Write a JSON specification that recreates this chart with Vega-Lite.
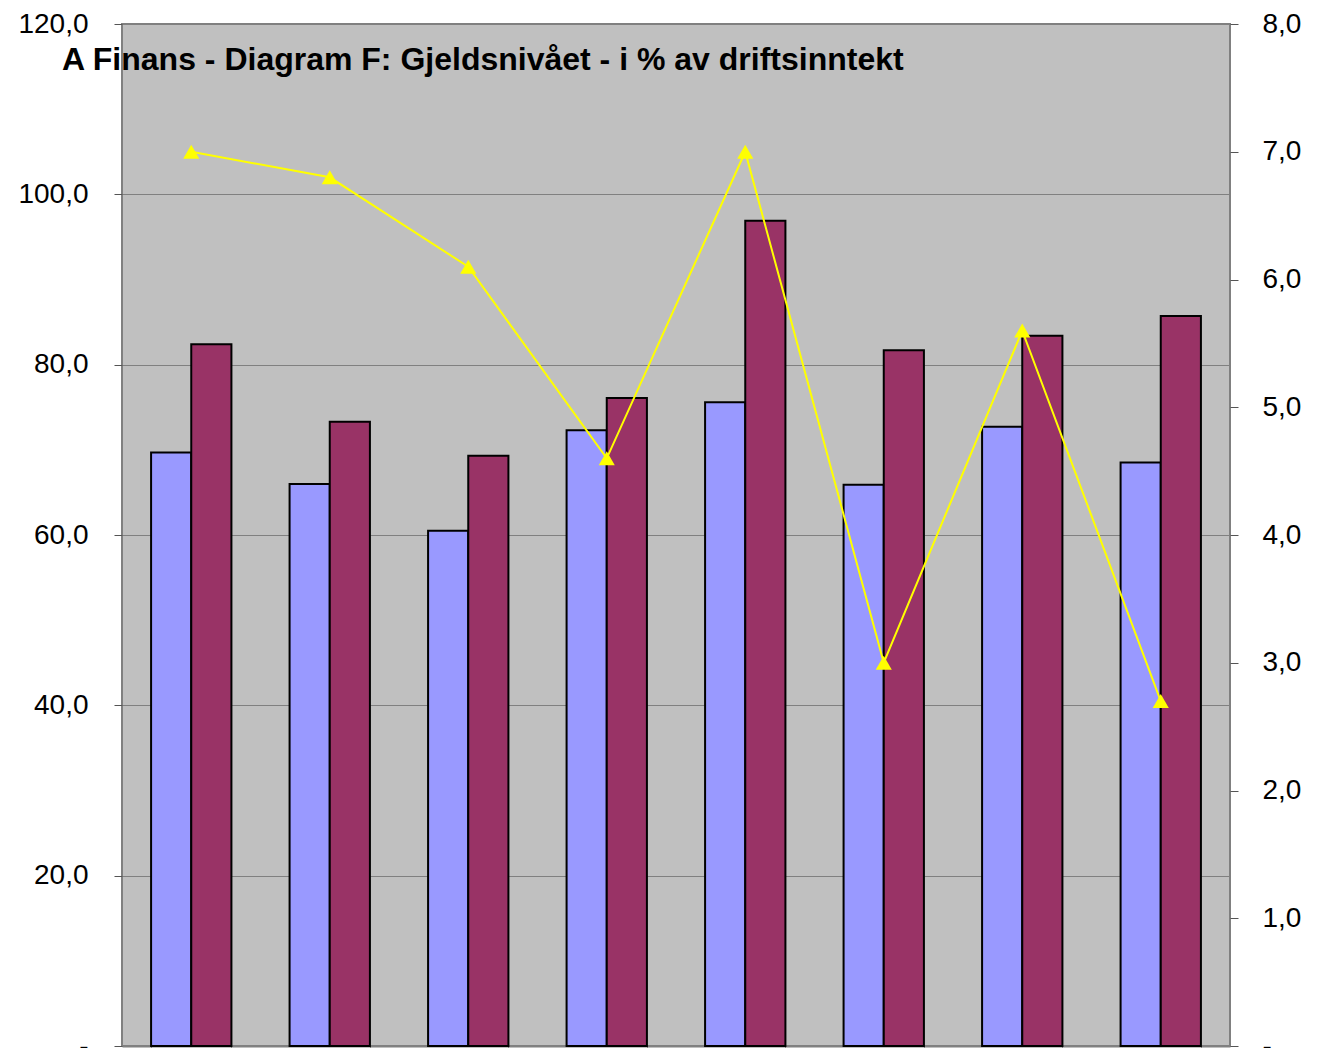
{
  "$schema": "https://vega.github.io/schema/vega-lite/v6.json",
  "width": 1108,
  "height": 1022,
  "autosize": "none",
  "padding": {"left": 122, "top": 24, "right": 96, "bottom": 2},
  "background": "white",
  "title": {
    "text": "A Finans - Diagram F: Gjeldsnivået - i % av driftsinntekt",
    "anchor": "start",
    "frame": "group",
    "orient": "top",
    "offset": -67,
    "dx": -60,
    "font": "Liberation Sans",
    "fontSize": 32,
    "fontWeight": "bold",
    "color": "black"
  },
  "config": {
    "view": {"fill": "#C0C0C0", "stroke": "#808080", "strokeWidth": 2},
    "axis": {
      "labelFont": "Liberation Sans",
      "labelFontSize": 28,
      "labelColor": "black",
      "tickColor": "#555555",
      "domainColor": "#808080",
      "title": null
    }
  },
  "datasets": {
    "bars": [
      {"g": "1", "s": "A", "v": 69.7}, {"g": "1", "s": "B", "v": 82.4},
      {"g": "2", "s": "A", "v": 66.0}, {"g": "2", "s": "B", "v": 73.3},
      {"g": "3", "s": "A", "v": 60.5}, {"g": "3", "s": "B", "v": 69.3},
      {"g": "4", "s": "A", "v": 72.3}, {"g": "4", "s": "B", "v": 76.1},
      {"g": "5", "s": "A", "v": 75.6}, {"g": "5", "s": "B", "v": 96.9},
      {"g": "6", "s": "A", "v": 65.9}, {"g": "6", "s": "B", "v": 81.7},
      {"g": "7", "s": "A", "v": 72.7}, {"g": "7", "s": "B", "v": 83.4},
      {"g": "8", "s": "A", "v": 68.5}, {"g": "8", "s": "B", "v": 85.7}
    ],
    "line": [
      {"g": "1", "r": 7.0}, {"g": "2", "r": 6.8}, {"g": "3", "r": 6.1},
      {"g": "4", "r": 4.6}, {"g": "5", "r": 7.0}, {"g": "6", "r": 3.0},
      {"g": "7", "r": 5.6}, {"g": "8", "r": 2.7}
    ]
  },
  "encoding": {
    "x": {
      "field": "g",
      "type": "nominal",
      "sort": null,
      "scale": {"paddingInner": 0.42, "paddingOuter": 0.21},
      "axis": {"labels": false, "tickBand": "extent", "tickSize": 6, "domainWidth": 2, "domainColor": "#808080", "tickColor": "#808080"}
    }
  },
  "layer": [
    {
      "data": {"name": "bars"},
      "mark": {"type": "bar", "stroke": "black", "strokeWidth": 2},
      "encoding": {
        "xOffset": {"field": "s", "type": "nominal"},
        "y": {
          "field": "v",
          "type": "quantitative",
          "scale": {"domain": [0, 120], "nice": false},
          "axis": {
            "values": [0, 20, 40, 60, 80, 100, 120],
            "orient": "left",
            "grid": true,
            "gridColor": "#808080",
            "gridWidth": 1,
            "domain": false,
            "tickSize": 8,
            "labelPadding": 26,
            "labelExpr": "datum.value == 0 ? '-' : replace(format(datum.value, '.1f'), '.', ',')"
          }
        },
        "fill": {
          "field": "s",
          "type": "nominal",
          "scale": {"domain": ["A", "B"], "range": ["#9999FF", "#993366"]},
          "legend": null
        }
      }
    },
    {
      "data": {"name": "line"},
      "mark": {
        "type": "line",
        "color": "#FFFF00",
        "strokeWidth": 2,
        "point": {"shape": "triangle-up", "size": 260, "filled": true, "fill": "#FFFF00", "opacity": 1}
      },
      "encoding": {
        "y": {
          "field": "r",
          "type": "quantitative",
          "scale": {"domain": [0, 8], "nice": false},
          "axis": {
            "values": [0, 1, 2, 3, 4, 5, 6, 7, 8],
            "orient": "right",
            "grid": false,
            "domain": false,
            "tickSize": 8,
            "labelPadding": 24,
            "labelExpr": "datum.value == 0 ? '-' : replace(format(datum.value, '.1f'), '.', ',')"
          }
        }
      }
    }
  ],
  "resolve": {"scale": {"y": "independent"}}
}
